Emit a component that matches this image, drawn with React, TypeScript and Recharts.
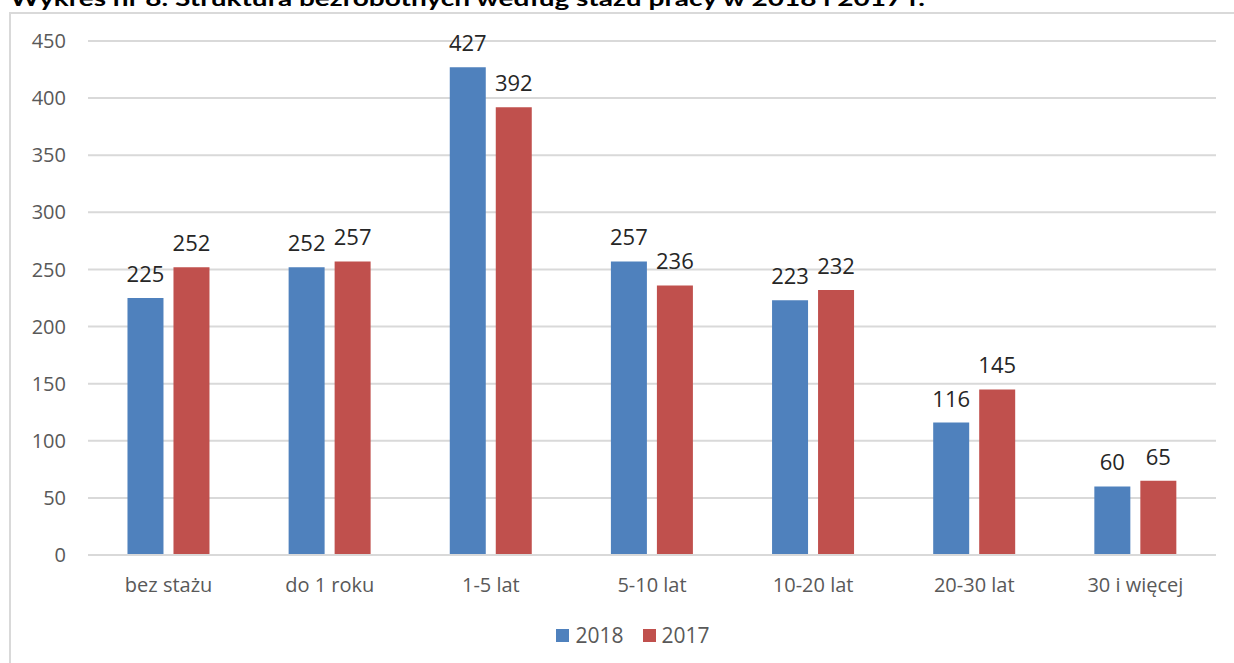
import { BarChart, Bar, XAxis, YAxis, CartesianGrid, Legend, LabelList } from 'recharts'

const categories = ['bez stażu', 'do 1 roku', '1-5 lat', '5-10 lat', '10-20 lat', '20-30 lat', '30 i więcej']
const values2018 = [225, 252, 427, 257, 223, 116, 60]
const values2017 = [252, 257, 392, 236, 232, 145, 65]
const yTicks = [0, 50, 100, 150, 200, 250, 300, 350, 400, 450]
const seriesOrder = ['2018', '2017']

const TITLE = 'Wykres nr 8. Struktura bezrobotnych według stażu pracy w 2018 i 2017 r.'
const FONT = '"Open Sans", sans-serif'

const data = categories.map((name, i) => ({
  name,
  y2018: values2018[i],
  y2017: values2017[i],
}))

function LegendContent({ payload }: any) {
  const items = [...(payload || [])].sort(
    (a: any, b: any) => seriesOrder.indexOf(a.value) - seriesOrder.indexOf(b.value)
  )
  return (
    <div style={{ display: 'flex', justifyContent: 'center', alignItems: 'center', height: 30 }}>
      {items.map((entry: any, i: number) => (
        <div key={entry.value} style={{ display: 'flex', alignItems: 'center', marginLeft: i ? 19 : 0 }}>
          <span style={{ width: 13, height: 13, background: entry.color, display: 'inline-block', marginRight: 6 }} />
          <span style={{ fontFamily: FONT, fontSize: 21, color: '#595959' }}>{entry.value}</span>
        </div>
      ))}
    </div>
  )
}

export default function App() {
  return (
    <div style={{ position: 'absolute', top: 0, left: 0, width: 1234, height: 663, overflow: 'hidden', background: '#fff' }}>
      <svg width={1234} height={20} style={{ position: 'absolute', top: 0, left: 0 }}>
        <text x={10} y={6} fontFamily="Lato, sans-serif" fontWeight="bold" fontSize={21} fill="#000" textLength={915} lengthAdjust="spacingAndGlyphs">
          {TITLE}
        </text>
      </svg>
      <div style={{ position: 'absolute', top: 12, left: 9, width: 1300, height: 700, border: '2px solid #d9d9d9', boxSizing: 'border-box' }} />
      <div style={{ position: 'absolute', top: 0, left: 0 }}>
        <BarChart
          width={1234}
          height={663}
          data={data}
          margin={{ top: 41, right: 18, bottom: 78, left: 10 }}
          barCategoryGap="24.5%"
          barGap={10}
        >
          <CartesianGrid vertical={false} stroke="#d9d9d9" strokeWidth={2} />
          <XAxis
            dataKey="name"
            height={30}
            tickLine={false}
            axisLine={{ stroke: '#d9d9d9', strokeWidth: 2 }}
            tickMargin={17}
            tick={{ fill: '#595959', fontSize: 20, fontFamily: FONT }}
            interval={0}
          />
          <YAxis
            width={78}
            domain={[0, 450]}
            ticks={yTicks}
            tickLine={false}
            axisLine={false}
            tickMargin={16}
            tick={{ fill: '#595959', fontSize: 20, fontFamily: FONT }}
          />
          <Legend
            layout="horizontal"
            verticalAlign="middle"
            align="center"
            wrapperStyle={{ top: 620, left: 16, width: 1234 }}
            content={<LegendContent />}
          />
          <Bar dataKey="y2018" name="2018" fill="#4f81bd" isAnimationActive={false}>
            <LabelList dataKey="y2018" position="top" offset={16} fill="#262626" fontSize={22} fontFamily={FONT} />
          </Bar>
          <Bar dataKey="y2017" name="2017" fill="#c0504d" isAnimationActive={false}>
            <LabelList dataKey="y2017" position="top" offset={16} fill="#262626" fontSize={22} fontFamily={FONT} />
          </Bar>
        </BarChart>
      </div>
    </div>
  )
}
